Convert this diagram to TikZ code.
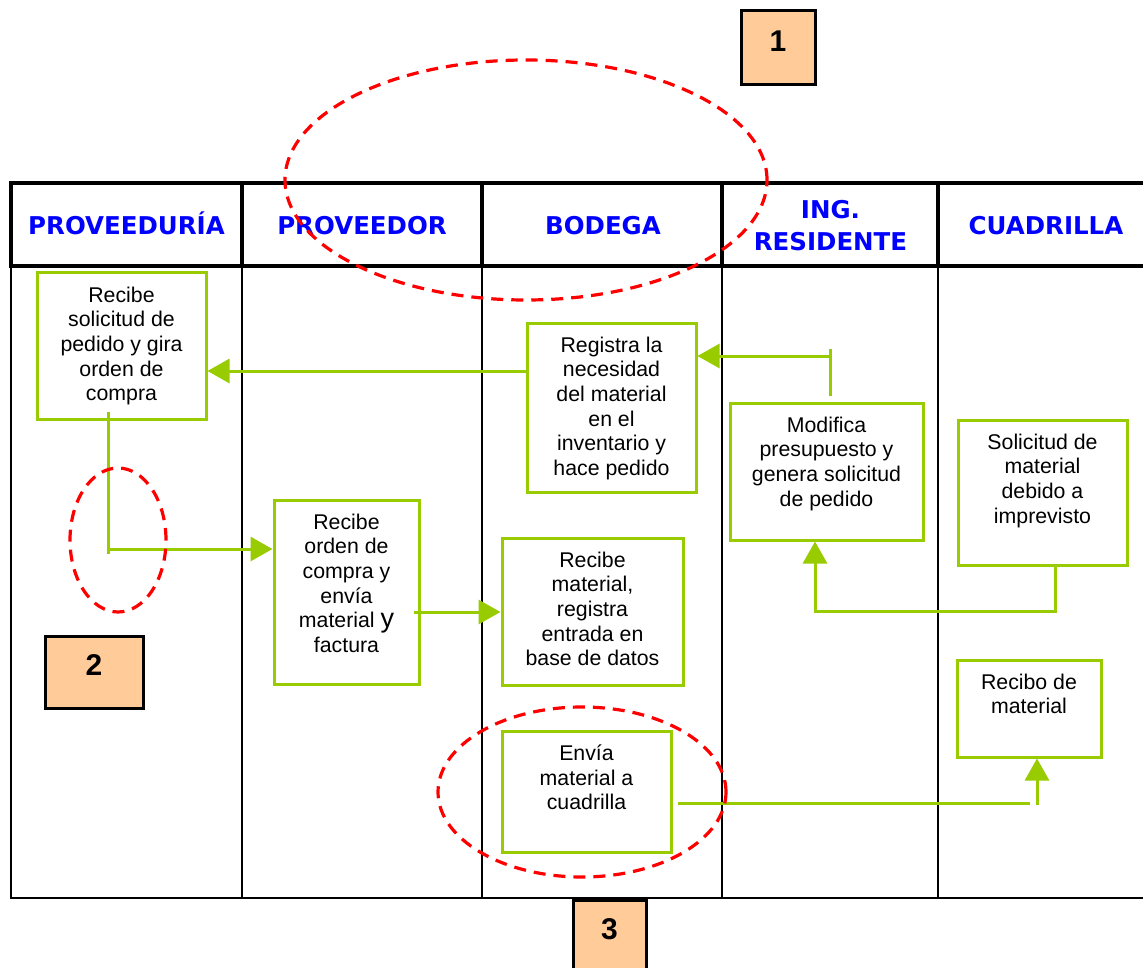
\documentclass[tikz,border=0pt]{standalone}
\usepackage{fontspec}
\setmainfont{Liberation Sans}
\newfontfamily\hdrfont{DejaVu Sans}
\usetikzlibrary{arrows.meta}
\definecolor{lgreen}{HTML}{99CC00}
\definecolor{peach}{HTML}{FFCC99}
\definecolor{hblue}{HTML}{0000FF}
\definecolor{dred}{HTML}{FF0000}
\tikzset{
  gbox/.style={draw=lgreen, line width=3pt, inner sep=0pt, rectangle},
  btxt/.style={align=center, inner sep=0pt, anchor=north, font=\fontsize{21.3}{24.7}\selectfont},
  hdr/.style={text=hblue, inner sep=0pt, font=\hdrfont\bfseries\fontsize{24.5}{32}\selectfont},
  numbox/.style={draw=black, line width=3pt, fill=peach, inner sep=0pt, rectangle},
  numtxt/.style={inner sep=0pt, font=\bfseries\fontsize{30}{30}\selectfont},
  conn/.style={draw=lgreen, line width=3pt},
  arr/.style={conn, -{Triangle[length=22pt,width=24pt]}},
  reddash/.style={draw=dred, line width=3.2pt, dash pattern=on 12pt off 8pt},
  thickline/.style={line width=3.6pt},
  thinline/.style={line width=2pt}
}
\begin{document}
\begin{tikzpicture}[x=1pt,y=-1pt]
\useasboundingbox (0,0) rectangle (1143,968);
\fill[white] (0,0) rectangle (1143,968);

% table
\draw[thickline] (9,183) -- (1143,183);
\draw[thickline] (9,266) -- (1143,266);
\foreach \xx in {11,242,482,722,938} {
  \draw[thickline] (\xx,183) -- (\xx,266);
  \draw[thinline] (\xx,266) -- (\xx,898);
}
\draw[thinline] (10,898) -- (1143,898);

% headers
\node[hdr, anchor=base] (h1) at (126.5,235) {PROVEEDURÍA};
\node[hdr, anchor=base] (h2) at (362,235) {PROVEEDOR};
\node[hdr, anchor=base] (h3) at (603,235) {BODEGA};
\node[hdr, anchor=north, align=center] (h4) at (830.5,200.5) {ING.\\RESIDENTE};
\node[hdr, anchor=base] (h5) at (1046,235) {CUADRILLA};

% boxes
\node[gbox, minimum width=169pt, minimum height=146pt] (b1) at (121.5,346) {};
\node[btxt] (t1) at ([yshift=-15pt]b1.north) {Recibe\\solicitud de\\pedido y gira\\orden de\\compra};

\node[gbox, minimum width=145pt, minimum height=184pt] (b2) at (346.5,592) {};
\node[btxt] (t2) at ([yshift=-15pt]b2.north) {Recibe\\orden de\\compra y\\envía\\material {\fontsize{27}{29}\selectfont y}\\factura};

\node[gbox, minimum width=169pt, minimum height=169pt] (reg) at (611.5,407.5) {};
\node[btxt] (t3) at ([yshift=-15pt]reg.north) {Registra la\\necesidad\\del material\\en el\\inventario y\\hace pedido};

\node[gbox, minimum width=193pt, minimum height=137pt] (mod) at (826.5,471.5) {};
\node[btxt] (t4) at ([yshift=-15pt]mod.north) {Modifica\\presupuesto y\\genera solicitud\\de pedido};

\node[gbox, minimum width=169pt, minimum height=145pt] (sol) at (1042.5,492.5) {};
\node[btxt] (t5) at ([yshift=-15pt]sol.north) {Solicitud de\\material\\debido a\\imprevisto};

\node[gbox, minimum width=181pt, minimum height=147pt] (rm) at (592.5,611.5) {};
\node[btxt] (t6) at ([yshift=-15pt]rm.north) {Recibe\\material,\\registra\\entrada en\\base de datos};

\node[gbox, minimum width=169pt, minimum height=121pt] (env) at (586.5,791.5) {};
\node[btxt] (t7) at ([yshift=-15pt]env.north) {Envía\\material a\\cuadrilla};

\node[gbox, minimum width=144pt, minimum height=97pt] (rec) at (1029,708.5) {};
\node[btxt] (t8) at ([yshift=-15pt]rec.north) {Recibo de\\material};

% number boxes
\node[numbox, minimum width=74pt, minimum height=74pt] (n1) at (778,48) {};
\node[numtxt] (d1) at ([yshift=-32pt]n1.north) {1};
\node[numbox, minimum width=98pt, minimum height=72pt] (n2) at (94,672) {};
\node[numtxt] (d2) at ([yshift=-31pt]n2.north) {2};
\node[numbox, minimum width=73pt, minimum height=76pt] (n3) at (609.5,938) {};
\node[numtxt] (d3) at ([yshift=-31pt]n3.north) {3};

% connectors
\coordinate (c1) at (108,412);
\coordinate (c1b) at (108,554);
\coordinate (c1c) at (108,549);
\draw[conn] (c1) -- (c1b);
\draw[arr] (c1c) -- (b2.west |- c1c);

\coordinate (c2) at (414,612);
\draw[arr] (c2) -- (rm.west |- c2);

\coordinate (c3) at (527,371);
\draw[arr] (c3) -- (b1.east |- c3);

\coordinate (c4a) at (830,396);
\coordinate (c4b) at (830,349);
\coordinate (c4c) at (830,356);
\draw[conn] (c4a) -- (c4b);
\draw[arr] (c4c) -- (reg.east |- c4c);

\coordinate (c5a) at (1055,611);
\coordinate (c5b) at (815,611);
\draw[arr] (sol.south -| c5a) -- (c5a) -- (c5b) -- (mod.south -| c5b);

\coordinate (c6a) at (678,803);
\coordinate (c6b) at (1030,803);
\coordinate (c6c) at (1037,805);
\draw[conn] (c6a) -- (c6b);
\draw[arr] (c6c) -- (rec.south -| c6c);

% red dashed ellipses
\node[inner sep=0pt] (e1) at (526,180) {};
\node[inner sep=0pt] (e2) at (118,540) {};
\node[inner sep=0pt] (e3) at (582,792) {};
\draw[reddash] (e1) ellipse [x radius=241pt, y radius=120pt];
\draw[reddash] (e2) ellipse [x radius=48pt, y radius=72pt];
\draw[reddash] (e3) ellipse [x radius=144pt, y radius=85pt];
\end{tikzpicture}
\end{document}
